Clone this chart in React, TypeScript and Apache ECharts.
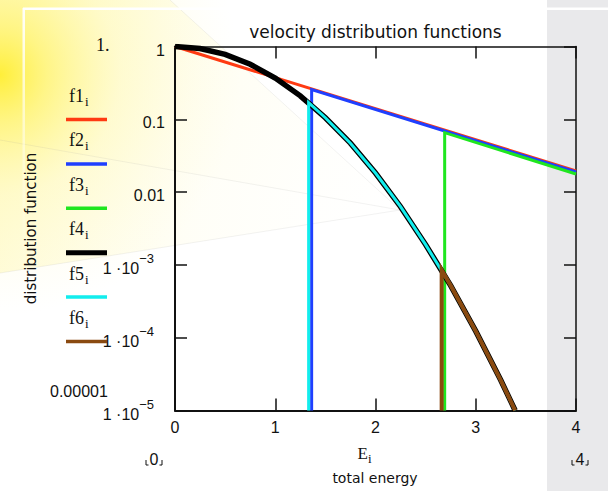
import { useEffect, useRef } from "react";
import * as echarts from "echarts";

// ---- data -------------------------------------------------------------
const seriesNames = ["f1", "f2", "f3", "f4", "f5", "f6"];
const seriesColors = ["#ff3a12", "#1f3fff", "#1fe61f", "#000000", "#12eded", "#8a4a10"];
const seriesWidths = [3, 3, 3, 5.5, 3, 4];

// total energy E (x) and distribution value (y) for each trace
const f1E = [0, 4];
const f1V = [1, 0.0196];

const f2E = [1.363, 1.363, 4];
const f2V = [1e-5, 0.257, 0.0189];

const f3E = [2.69, 2.69, 4];
const f3V = [1e-5, 0.0655, 0.0177];

const f4E = [0, 0.25, 0.5, 0.75, 1, 1.25, 1.5, 1.75, 2, 2.25, 2.5, 2.75, 3, 3.25, 3.393];
const f4V = [1, 0.94, 0.78, 0.57, 0.368, 0.21, 0.105, 0.047, 0.0183, 0.0063, 0.0019, 0.00052, 0.000123, 0.000026, 0.00001];

const f5E = [1.333, 1.333, 1.5, 1.75, 2, 2.25, 2.5, 2.75, 3, 3.25, 3.393];
const f5V = [1e-5, 0.17, 0.105, 0.047, 0.0183, 0.0063, 0.0019, 0.00052, 0.000123, 0.000026, 0.00001];

const f6E = [2.66, 2.66, 2.75, 3, 3.25, 3.393];
const f6V = [1e-5, 0.00085, 0.00052, 0.000123, 0.000026, 0.00001];

const traceE = [f1E, f2E, f3E, f4E, f5E, f6E];
const traceV = [f1V, f2V, f3V, f4V, f5V, f6V];

// axis ranges and tick labels
const xMin = 0;
const xMax = 4;
const xStep = 1;
const yMin = 1e-5;
const yMax = 1;
// label per decade exponent: [mantissa text, superscript]
const yDecades = [-5, -4, -3, -2, -1, 0];
const yTickText = [
  ["1 ·10", "−5"],
  ["1 ·10", "−4"],
  ["1 ·10", "−3"],
  ["0.01", ""],
  ["0.1", ""],
  ["1", ""],
];

const titleText = "velocity distribution functions";
const yTitle = "distribution function";
const xVarName = "E";
const indexName = "i";
const xTitle = "total energy";
const yUpperLimit = "1.";
const yLowerLimit = "0.00001";
const xLowerLimit = "0";
const xUpperLimit = "4";

// ---- styling ----------------------------------------------------------
const SANS = "'Liberation Sans', Arial, sans-serif";
const WIDE = "'DejaVu Sans', Verdana, sans-serif";
const SERIF = "'Liberation Serif', 'Times New Roman', serif";
const INK = "#111111";

const G_LEFT = 175;
const G_TOP = 46.5;
const G_RIGHT = 576;
const G_BOTTOM = 410.5;

function txt(x: number, y: number, text: string, font: string, align = "left") {
  return {
    type: "text",
    x,
    y,
    z: 10,
    style: { text, font, fill: INK, align, verticalAlign: "middle" },
  };
}

// name with a subscript index, e.g. f1 with subscript i
function indexed(x: number, y: number, base: string, size: number, subGap: number) {
  return [
    txt(x, y, base, `${size}px ${SERIF}`),
    txt(x + subGap, y + 5.5, indexName, `${Math.round(size * 0.74)}px ${SERIF}`),
  ];
}

function limitMark(cx: number, cy: number, text: string) {
  return [
    txt(cx, cy, text, `16px ${SANS}`, "center"),
    {
      type: "polyline",
      z: 10,
      shape: { points: [[cx - 8, cy + 1], [cx - 8, cy + 6], [cx - 5.5, cy + 6]] },
      style: { stroke: INK, lineWidth: 1, fill: null },
    },
    {
      type: "polyline",
      z: 10,
      shape: { points: [[cx + 8, cy + 1], [cx + 8, cy + 6], [cx + 5.5, cy + 6]] },
      style: { stroke: INK, lineWidth: 1, fill: null },
    },
  ];
}

function backdrop() {
  const F = [400, 210];
  return [
    { type: "rect", z: -20, shape: { x: 0, y: 0, width: 608, height: 491 }, style: { fill: "#ffffff" } },
    {
      type: "polygon",
      z: -19,
      shape: { points: [F, [170, 0], [0, 0], [0, 140]] },
      style: {
        fill: {
          type: "linear", global: true, x: 0, y: 80, x2: 400, y2: 210,
          colorStops: [
            { offset: 0, color: "rgba(255,244,120,0.4)" },
            { offset: 0.45, color: "rgba(255,248,180,0.18)" },
            { offset: 1, color: "rgba(255,252,225,0)" },
          ],
        },
      },
    },
    {
      type: "polygon",
      z: -19,
      shape: { points: [F, [0, 140], [0, 273]] },
      style: {
        fill: {
          type: "linear", global: true, x: 0, y: 200, x2: 400, y2: 210,
          colorStops: [
            { offset: 0, color: "rgba(255,244,130,0.3)" },
            { offset: 0.5, color: "rgba(255,249,190,0.12)" },
            { offset: 1, color: "rgba(255,252,225,0)" },
          ],
        },
      },
    },
    {
      type: "circle",
      z: -18,
      shape: { cx: 0, cy: 75, r: 240 },
      style: {
        fill: {
          type: "radial", x: 0.5, y: 0.5, r: 0.5,
          colorStops: [
            { offset: 0, color: "rgba(255,238,50,0.95)" },
            { offset: 0.2, color: "rgba(255,242,95,0.65)" },
            { offset: 0.5, color: "rgba(255,247,160,0.3)" },
            { offset: 1, color: "rgba(255,250,200,0)" },
          ],
        },
      },
    },
    {
      type: "polyline", z: -17,
      shape: { points: [[170, 0], F] },
      style: { stroke: "rgba(150,150,150,0.12)", lineWidth: 1, fill: null },
    },
    {
      type: "polyline", z: -17,
      shape: { points: [[0, 140], F] },
      style: { stroke: "rgba(150,150,150,0.12)", lineWidth: 1, fill: null },
    },
    {
      type: "polyline", z: -17,
      shape: { points: [[0, 273], F] },
      style: { stroke: "rgba(150,150,150,0.12)", lineWidth: 1, fill: null },
    },
    { type: "rect", z: -16, shape: { x: 547, y: 0, width: 61, height: 491 }, style: { fill: "#e9e9eb" } },
    { type: "rect", z: -15, shape: { x: 23, y: 7.5, width: 585, height: 2.5 }, style: { fill: "#ffffff" } },
    {
      type: "rect",
      z: -15,
      shape: { x: 22.5, y: 8, width: 2.5, height: 260 },
      style: {
        fill: {
          type: "linear", x: 0, y: 0, x2: 0, y2: 1,
          colorStops: [
            { offset: 0, color: "rgba(255,255,255,0.95)" },
            { offset: 1, color: "rgba(255,255,255,0)" },
          ],
        },
      },
    },
  ];
}

function legendItems() {
  const items: any[] = [];
  const textY0 = 96;
  const lineY0 = 119.5;
  const step = 44.4;
  seriesNames.forEach((name, i) => {
    items.push(...indexed(69, textY0 + i * step, name, 18, 16));
    items.push({
      type: "line",
      z: 10,
      shape: { x1: 66, y1: lineY0 + i * step, x2: 107, y2: lineY0 + i * step },
      style: { stroke: seriesColors[i], lineWidth: i === 3 ? 5 : 3.5 },
    });
  });
  return items;
}

function yLabel(v: number) {
  const e = Math.round(Math.log10(v));
  const idx = yDecades.indexOf(e);
  if (idx < 0) return "";
  const [m, s] = yTickText[idx];
  if (!s) return `{n|${m}}`;
  return `{m|${m}}{s|${s}}`;
}

export default function App() {
  const ref = useRef<HTMLDivElement>(null);

  useEffect(() => {
    if (!ref.current) return;
    const chart = echarts.init(ref.current, undefined, { renderer: "svg" });

    const series = seriesNames.map((name, i) => ({
      name,
      type: "line",
      data: traceE[i].map((e, k) => [e, traceV[i][k]]),
      showSymbol: false,
      symbol: "none",
      clip: true,
      z: 2 + i,
      lineStyle: { color: seriesColors[i], width: seriesWidths[i], join: "miter", cap: "butt" },
      emphasis: { disabled: true },
      silent: true,
    }));

    const tickStyle = { show: true, inside: true, length: 12, lineStyle: { color: INK, width: 1.5 } };

    chart.setOption({
      animation: false,
      backgroundColor: "transparent",
      grid: { left: G_LEFT, top: G_TOP, width: G_RIGHT - G_LEFT, height: G_BOTTOM - G_TOP },
      xAxis: [
        {
          type: "value",
          min: xMin,
          max: xMax,
          interval: xStep,
          position: "bottom",
          axisLine: { show: true, onZero: false, lineStyle: { color: INK, width: 2 } },
          axisTick: tickStyle,
          splitLine: { show: false },
          axisLabel: { margin: 9, fontSize: 16, fontFamily: SANS, color: INK, showMinLabel: true, showMaxLabel: true },
        },
        {
          type: "value",
          min: xMin,
          max: xMax,
          interval: xStep,
          position: "top",
          axisLine: { show: true, onZero: false, lineStyle: { color: INK, width: 1.5 } },
          axisTick: tickStyle,
          splitLine: { show: false },
          axisLabel: { show: false },
        },
      ],
      yAxis: [
        {
          type: "log",
          logBase: 10,
          min: yMin,
          max: yMax,
          splitNumber: 5,
          position: "left",
          name: yTitle,
          nameLocation: "middle",
          nameGap: 137,
          nameTextStyle: { fontFamily: WIDE, fontSize: 15, color: INK },
          axisLine: { show: true, onZero: false, lineStyle: { color: INK, width: 2 } },
          axisTick: tickStyle,
          splitLine: { show: false },
          minorTick: { show: false },
          axisLabel: {
            margin: 10,
            color: INK,
            padding: [7, 0, 0, 0],
            showMinLabel: true,
            showMaxLabel: true,
            formatter: yLabel,
            rich: {
              n: { fontSize: 16, fontFamily: SANS, color: INK },
              m: { fontSize: 16, fontFamily: SANS, color: INK },
              s: { fontSize: 13, fontFamily: SANS, color: INK, padding: [0, 11, 20, 0] },
            },
          },
        },
        {
          type: "log",
          logBase: 10,
          min: yMin,
          max: yMax,
          splitNumber: 5,
          position: "right",
          axisLine: { show: true, onZero: false, lineStyle: { color: INK, width: 1.5 } },
          axisTick: tickStyle,
          splitLine: { show: false },
          minorTick: { show: false },
          axisLabel: { show: false },
        },
      ],
      series,
      graphic: [
        ...backdrop(),
        txt(375.5, 32, titleText, `17px ${WIDE}`, "center"),
        txt(96, 44.5, yUpperLimit, `18px ${SERIF}`),
        txt(50, 391, yLowerLimit, `16px ${SANS}`),
        ...limitMark(154, 459, xLowerLimit),
        ...limitMark(580, 459, xUpperLimit),
        ...indexed(357.5, 453, xVarName, 17, 10.5),
        txt(375, 478, xTitle, `14px ${WIDE}`, "center"),
        ...legendItems(),
      ],
    });

    return () => chart.dispose();
  }, []);

  return (
    <div
      ref={ref}
      style={{ position: "absolute", left: 0, top: 0, width: 608, height: 491 }}
    />
  );
}
